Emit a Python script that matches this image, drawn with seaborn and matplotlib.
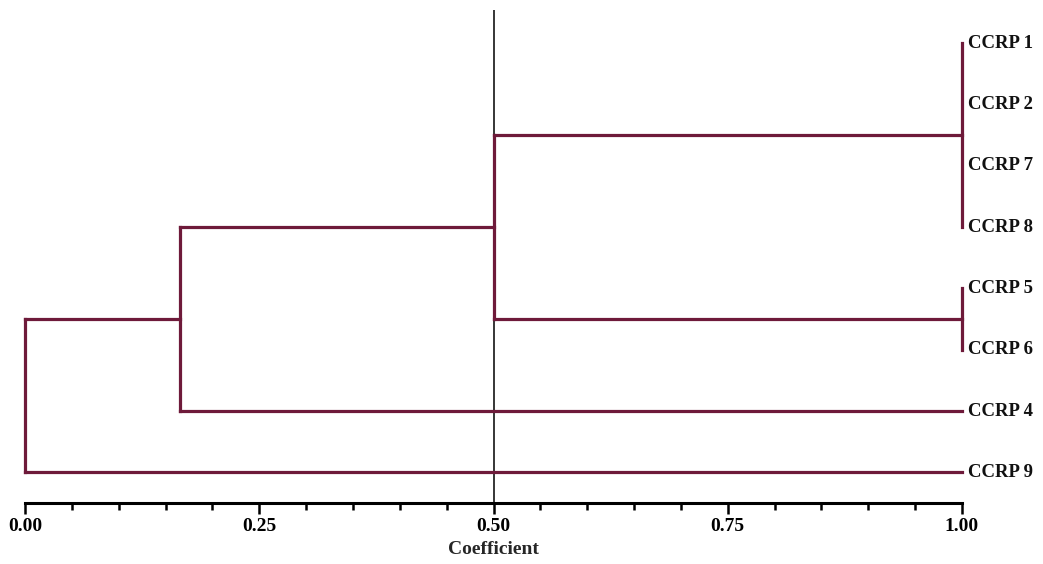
import matplotlib
matplotlib.use("Agg")
import matplotlib.pyplot as plt
import seaborn as sns
import pandas as pd
from matplotlib.ticker import MultipleLocator

sns.set_theme(style="white")
plt.rcParams['font.family'] = ['Liberation Serif', 'DejaVu Serif']

# Leaves, top to bottom
leaf_labels = ["CCRP 1", "CCRP 2", "CCRP 7", "CCRP 8", "CCRP 5", "CCRP 6", "CCRP 4", "CCRP 9"]
leaf_coef = 1.00
# Clusters: (name, children, coefficient at which they join)
cluster_names = ["A", "B", "C", "D", "E"]
cluster_children = [
    ["CCRP 1", "CCRP 2", "CCRP 7", "CCRP 8"],
    ["CCRP 5", "CCRP 6"],
    ["A", "B"],
    ["C", "CCRP 4"],
    ["D", "CCRP 9"],
]
cluster_coef = [1.00, 1.00, 0.50, 0.165, 0.00]
cut_line = 0.50

# build segments
pos = {lab: (leaf_coef, i) for i, lab in enumerate(leaf_labels)}
rows = []
seg = 0
for name, children, c in zip(cluster_names, cluster_children, cluster_coef):
    ys = [pos[ch][1] for ch in children]
    rows += [dict(seg=seg, x=c, y=min(ys)), dict(seg=seg, x=c, y=max(ys))]
    seg += 1
    for ch in children:
        cx, cy = pos[ch]
        if cx != c:
            rows += [dict(seg=seg, x=c, y=cy), dict(seg=seg, x=cx, y=cy)]
            seg += 1
    pos[name] = (c, (min(ys) + max(ys)) / 2)
df = pd.DataFrame(rows)

fig = plt.figure(figsize=(10.43, 5.64), dpi=100)
ax = fig.add_axes([25 / 1043, 61 / 564, 937 / 1043, 493 / 564])
sns.lineplot(data=df, x="x", y="y", units="seg", estimator=None, sort=False,
             color="#6e1a3a", linewidth=2.3, ax=ax, legend=False,
             solid_capstyle="projecting")
for ln in ax.get_lines():
    ln.set_clip_on(False)
ax.axvline(cut_line, color="black", linewidth=1.1, zorder=0)

ax.set_xlim(0, 1)
ax.set_ylim(7.5, -0.54)
ax.set_yticks([])
ax.set_ylabel("")
ax.xaxis.set_major_locator(MultipleLocator(0.25))
ax.xaxis.set_minor_locator(MultipleLocator(0.05))
ax.set_xticks([0, 0.25, 0.5, 0.75, 1.0])
ax.set_xticklabels(["0.00", "0.25", "0.50", "0.75", "1.00"], fontweight="bold", fontsize=14)
ax.tick_params(axis="x", which="major", bottom=True, direction="out", length=8, width=1.8, pad=3, colors="black")
ax.tick_params(axis="x", which="minor", bottom=True, direction="out", length=5, width=1.8, colors="black")
ax.set_xlabel("Coefficient", fontweight="bold", fontsize=14, labelpad=4)
for s in ["top", "left", "right"]:
    ax.spines[s].set_visible(False)
ax.spines["bottom"].set_linewidth(2.2)
ax.spines["bottom"].set_color("black")
ax.spines["bottom"].set_bounds(0, 1)

for i, lab in enumerate(leaf_labels):
    ax.text(1.006, i, lab, ha="left", va="center", fontsize=13.5, fontweight="bold",
            color="#111111", clip_on=False)

fig.savefig("out.png", dpi=100, facecolor="white")
